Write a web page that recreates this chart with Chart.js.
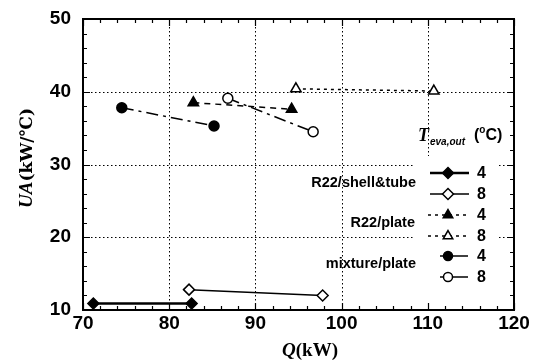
<!DOCTYPE html>
<html>
<head>
<meta charset="utf-8">
<script src="https://cdn.jsdelivr.net/npm/chart.js@4"></script>
<style>
  html, body { margin: 0; padding: 0; background: #fff; }
  #wrap { width: 539px; height: 362px; }
</style>
</head>
<body>
<div id="wrap"><canvas id="uaChart" width="539" height="362"></canvas></div>
<script>
// Q (kW) and UA (kW/°C) for each heat exchanger / outlet temperature
const qShell4 = [71.2, 82.6];
const uaShell4 = [10.9, 10.9];
const qShell8 = [82.3, 97.8];
const uaShell8 = [12.8, 12.0];
const qPlate4 = [82.8, 94.2];
const uaPlate4 = [38.5, 37.6];
const qPlate8 = [94.7, 110.7];
const uaPlate8 = [40.4, 40.1];
const qMix4 = [74.5, 85.2];
const uaMix4 = [37.8, 35.3];
const qMix8 = [86.8, 96.7];
const uaMix8 = [39.1, 34.5];

const xTicks = [70, 80, 90, 100, 110, 120];
const yTicks = [10, 20, 30, 40, 50];
const tempLabels = ['4', '8', '4', '8', '4', '8'];
const groupLabels = ['R22/shell&tube', 'R22/plate', 'mixture/plate'];

const pts = (xs, ys) => xs.map((v, i) => ({ x: v, y: ys[i] }));

function series(xs, ys, style, filled, dash, width, radius) {
    return {
        data: pts(xs, ys),
        showLine: true,
        borderColor: '#000',
        borderWidth: width,
        borderDash: dash,
        pointStyle: style,
        pointRadius: radius,
        pointBorderWidth: 1.5,
        pointBorderColor: '#000',
        pointBackgroundColor: filled ? '#000' : '#fff',
        clip: false
    };
}

const datasets = [
    series(qShell4, uaShell4, 'rectRot', true, [], 2.5, 5.5),
    series(qShell8, uaShell8, 'rectRot', false, [], 1.5, 5.5),
    series(qPlate4, uaPlate4, 'triangle', true, [6, 5], 1.5, 6),
    series(qPlate8, uaPlate8, 'triangle', false, [3, 4], 1.5, 6),
    series(qMix4, uaMix4, 'circle', true, [12, 5, 3, 5], 1.5, 5),
    series(qMix8, uaMix8, 'circle', false, [12, 5, 3, 5], 1.5, 5)
];

const tickFont = { family: '"Liberation Sans", Arial, sans-serif', size: 19, weight: 'bold' };

// gridlines, inward ticks and the frame, drawn under the data
const framePlugin = {
    id: 'frame',
    beforeDatasetsDraw(chart) {
        const { ctx, chartArea: a, scales: { x, y } } = chart;
        ctx.save();
        ctx.strokeStyle = '#000';
        ctx.lineWidth = 1;
        ctx.setLineDash([1.5, 2.5]);
        xTicks.slice(1, -1).forEach(v => {
            const px = Math.round(x.getPixelForValue(v)) + 0.5;
            ctx.beginPath(); ctx.moveTo(px, a.top); ctx.lineTo(px, a.bottom); ctx.stroke();
        });
        yTicks.slice(1, -1).forEach(v => {
            const py = Math.round(y.getPixelForValue(v)) + 0.5;
            ctx.beginPath(); ctx.moveTo(a.left, py); ctx.lineTo(a.right, py); ctx.stroke();
        });
        ctx.setLineDash([]);

        // blank area behind the key
        ctx.fillStyle = '#fff';
        ctx.fillRect(414, 156, 83, 147);

        // inward ticks on all four sides
        ctx.lineWidth = 1.2;
        for (let v = 70; v <= 120; v += 2) {
            const px = Math.round(x.getPixelForValue(v)) + 0.5;
            const len = v % 10 === 0 ? 7 : 4;
            ctx.beginPath();
            ctx.moveTo(px, a.bottom); ctx.lineTo(px, a.bottom - len);
            ctx.moveTo(px, a.top); ctx.lineTo(px, a.top + len);
            ctx.stroke();
        }
        for (let v = 10; v <= 50; v += 2) {
            const py = Math.round(y.getPixelForValue(v)) + 0.5;
            const len = v % 10 === 0 ? 7 : 4;
            ctx.beginPath();
            ctx.moveTo(a.left, py); ctx.lineTo(a.left + len, py);
            ctx.moveTo(a.right, py); ctx.lineTo(a.right - len, py);
            ctx.stroke();
        }

        ctx.lineWidth = 2;
        ctx.strokeRect(a.left, a.top, a.right - a.left, a.bottom - a.top);
        ctx.restore();
    },
    afterDraw(chart) {
        const { ctx } = chart;
        ctx.save();
        ctx.fillStyle = '#000';
        ctx.strokeStyle = '#000';

        // axis titles
        ctx.textBaseline = 'alphabetic';
        ctx.font = 'italic bold 19px "Liberation Serif", "DejaVu Serif", serif';
        const qW = ctx.measureText('Q').width;
        ctx.font = 'bold 19px "Liberation Serif", "DejaVu Serif", serif';
        const kwW = ctx.measureText('(kW)').width;
        let sx = 310 - (qW + kwW) / 2;
        ctx.font = 'italic bold 19px "Liberation Serif", "DejaVu Serif", serif';
        ctx.fillText('Q', sx, 356);
        ctx.font = 'bold 19px "Liberation Serif", "DejaVu Serif", serif';
        ctx.fillText('(kW)', sx + qW, 356);

        ctx.save();
        ctx.translate(32, 158);
        ctx.rotate(-Math.PI / 2);
        ctx.font = 'italic bold 19px "Liberation Serif", "DejaVu Serif", serif';
        const uaW = ctx.measureText('UA').width;
        ctx.font = 'bold 17px "DejaVu Serif", serif';
        const unitW = ctx.measureText('(kW/℃)').width;
        sx = -(uaW + unitW) / 2;
        ctx.font = 'italic bold 19px "Liberation Serif", "DejaVu Serif", serif';
        ctx.fillText('UA', sx, 0);
        ctx.font = 'bold 17px "DejaVu Serif", serif';
        ctx.fillText('(kW/℃)', sx + uaW, 0);
        ctx.restore();

        // key title
        ctx.font = 'italic bold 18px "Liberation Serif", serif';
        ctx.fillText('T', 418, 141);
        ctx.font = 'italic bold 10px "Liberation Sans", Arial, sans-serif';
        ctx.fillText('eva,out', 430, 145);
        ctx.font = 'bold 16px "Liberation Sans", Arial, sans-serif';
        ctx.fillText('(', 474, 140);
        const pw = ctx.measureText('(').width;
        ctx.font = 'bold 10px "Liberation Sans", Arial, sans-serif';
        ctx.fillText('o', 474 + pw, 133);
        const ow = ctx.measureText('o').width;
        ctx.font = 'bold 16px "Liberation Sans", Arial, sans-serif';
        ctx.fillText('C)', 474 + pw + ow, 140);

        // group names
        ctx.font = 'bold 14.5px "Liberation Sans", Arial, sans-serif';
        ctx.textAlign = 'right';
        ctx.textBaseline = 'middle';
        ctx.fillText(groupLabels[0], 416, 183);
        ctx.fillText(groupLabels[1], 415, 223);
        ctx.fillText(groupLabels[2], 416, 264);

        // key entries
        const rowY = [173, 194, 215, 236, 256, 277];
        const lineX = [[430, 469], [430, 469], [428, 469], [428, 469], [440, 468], [440, 468]];
        ctx.textAlign = 'left';
        ctx.font = 'bold 16px "Liberation Sans", Arial, sans-serif';
        datasets.forEach((ds, i) => {
            const yy = rowY[i];
            ctx.save();
            ctx.lineWidth = i === 0 ? 2.5 : 1.5;
            ctx.setLineDash(i === 2 || i === 3 ? [3, 4] : []);
            ctx.beginPath();
            ctx.moveTo(lineX[i][0], yy); ctx.lineTo(lineX[i][1], yy);
            ctx.stroke();
            ctx.restore();
            ctx.save();
            ctx.lineWidth = 1.5;
            ctx.fillStyle = ds.pointBackgroundColor;
            Chart.helpers.drawPoint(ctx, {
                pointStyle: ds.pointStyle,
                radius: ds.pointStyle === 'circle' ? 4.5 : 5.5,
                rotation: 0,
                borderWidth: 1.5
            }, 448, yy);
            ctx.restore();
            ctx.fillText(tempLabels[i], 477, yy + 1);
        });
        ctx.restore();
    }
};

new Chart(document.getElementById('uaChart'), {
    type: 'scatter',
    data: { datasets },
    options: {
        responsive: false,
        animation: false,
        layout: { padding: { left: 0, right: 25, top: 19, bottom: 0 } },
        plugins: { legend: { display: false }, tooltip: { enabled: false } },
        scales: {
            x: {
                type: 'linear',
                min: 70, max: 120,
                afterBuildTicks: s => { s.ticks = xTicks.map(v => ({ value: v })); },
                afterFit: s => { s.height = 52; s.paddingLeft = 0; s.paddingRight = 0; },
                grid: { display: false, drawTicks: false },
                border: { display: false },
                ticks: { color: '#000', font: tickFont, padding: 2, maxRotation: 0 }
            },
            y: {
                type: 'linear',
                min: 10, max: 50,
                afterBuildTicks: s => { s.ticks = yTicks.map(v => ({ value: v })); },
                afterFit: s => { s.width = 83; s.paddingTop = 0; s.paddingBottom = 0; },
                grid: { display: false, drawTicks: false },
                border: { display: false },
                ticks: { color: '#000', font: tickFont, padding: 12 }
            }
        }
    },
    plugins: [framePlugin]
});
</script>
</body>
</html>
